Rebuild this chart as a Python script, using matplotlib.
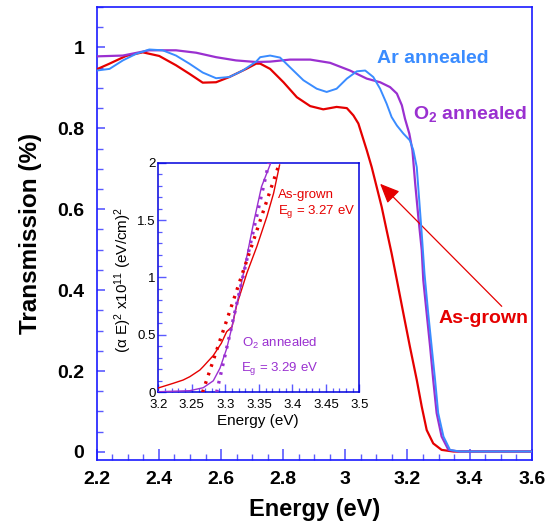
import matplotlib
matplotlib.use("Agg")
import matplotlib.pyplot as plt
from matplotlib.ticker import MultipleLocator, FuncFormatter

plt.rcParams['font.family'] = ['Liberation Sans', 'DejaVu Sans']
plt.rcParams['mathtext.fontset'] = 'custom'
plt.rcParams['mathtext.rm'] = 'Liberation Sans'
plt.rcParams['mathtext.it'] = 'Liberation Sans:italic'
plt.rcParams['mathtext.bf'] = 'Liberation Sans:bold'

# ---------------- data ----------------
asgrown_E = [2.200, 2.241, 2.294, 2.348, 2.401, 2.455, 2.498, 2.541, 2.584, 2.627,
             2.681, 2.713, 2.726, 2.758, 2.801, 2.844, 2.887, 2.929, 2.972, 3.005,
             3.026, 3.042, 3.069, 3.085, 3.101, 3.117, 3.133, 3.149, 3.166, 3.187,
             3.208, 3.230, 3.246, 3.262, 3.283, 3.310, 3.348, 3.600]
asgrown_T = [0.946, 0.960, 0.979, 0.988, 0.979, 0.956, 0.935, 0.913, 0.914, 0.927,
             0.947, 0.960, 0.960, 0.947, 0.914, 0.877, 0.855, 0.847, 0.853, 0.850,
             0.832, 0.812, 0.746, 0.704, 0.655, 0.606, 0.548, 0.491, 0.425, 0.342,
             0.260, 0.178, 0.112, 0.054, 0.021, 0.005, 0.001, 0.001]

ar_E = [2.200, 2.241, 2.284, 2.326, 2.369, 2.412, 2.455, 2.498, 2.541, 2.584,
        2.627, 2.670, 2.713, 2.726, 2.758, 2.790, 2.822, 2.865, 2.908, 2.940,
        2.972, 3.005, 3.037, 3.064, 3.090, 3.112, 3.133, 3.149, 3.166, 3.187,
        3.208, 3.219, 3.230, 3.238, 3.246, 3.255, 3.267, 3.278, 3.289, 3.299,
        3.316, 3.337, 3.369, 3.600]
ar_T = [0.943, 0.947, 0.968, 0.984, 0.995, 0.993, 0.980, 0.960, 0.938, 0.924,
        0.927, 0.943, 0.965, 0.976, 0.980, 0.975, 0.951, 0.919, 0.898, 0.890,
        0.898, 0.923, 0.941, 0.943, 0.927, 0.898, 0.861, 0.828, 0.807, 0.787,
        0.770, 0.746, 0.704, 0.622, 0.540, 0.440, 0.342, 0.260, 0.178, 0.096,
        0.038, 0.005, 0.001, 0.001]

o2_E = [2.200, 2.284, 2.369, 2.455, 2.520, 2.584, 2.648, 2.713, 2.758, 2.822,
        2.887, 2.951, 3.015, 3.069, 3.112, 3.144, 3.166, 3.182, 3.192, 3.206,
        3.216, 3.225, 3.235, 3.246, 3.251, 3.262, 3.273, 3.283, 3.294, 3.310,
        3.332, 3.363, 3.600]
o2_T = [0.978, 0.980, 0.993, 0.993, 0.987, 0.976, 0.968, 0.964, 0.965, 0.970,
        0.970, 0.962, 0.943, 0.923, 0.914, 0.902, 0.886, 0.857, 0.824, 0.787,
        0.746, 0.663, 0.581, 0.499, 0.425, 0.342, 0.260, 0.178, 0.096, 0.038,
        0.005, 0.001, 0.001]

# inset: (alpha E)^2 x 1e11 (eV/cm)^2
in_asg_E = [3.200, 3.222, 3.237, 3.247, 3.262, 3.267, 3.282, 3.294, 3.302, 3.310,
            3.317, 3.332, 3.347, 3.362, 3.372, 3.381]
in_asg_A = [0.038, 0.078, 0.107, 0.136, 0.194, 0.224, 0.320, 0.427, 0.528, 0.571,
            0.760, 1.036, 1.269, 1.530, 1.733, 1.980]
in_o2_E = [3.200, 3.247, 3.267, 3.282, 3.292, 3.302, 3.310, 3.316, 3.322, 3.332,
           3.342, 3.354, 3.368]
in_o2_A = [0.005, 0.014, 0.040, 0.100, 0.210, 0.380, 0.571, 0.746, 0.891, 1.181,
           1.472, 1.791, 2.000]
fit_asg_E = [3.266, 3.381]
fit_asg_A = [0.0, 2.0]
fit_o2_E = [3.287, 3.365]
fit_o2_A = [0.0, 2.0]

main_xticks = [2.2, 2.4, 2.6, 2.8, 3.0, 3.2, 3.4, 3.6]
main_yticks = [0, 0.2, 0.4, 0.6, 0.8, 1.0]
inset_xticks = [3.2, 3.25, 3.3, 3.35, 3.4, 3.45, 3.5]
inset_yticks = [0, 0.5, 1, 1.5, 2]

RED = '#e50000'
BLUE = '#3a8cff'
PURPLE = '#9a30d0'
SPINE = '#1a1aff'
TICK = '#5a5aff'

fmt = FuncFormatter(lambda v, p: ('%g' % round(v, 4)))

fig = plt.figure(figsize=(5.53, 5.28), dpi=100)
ax = fig.add_axes([0.175, 0.1288, 0.7865, 0.8579])

ax.plot(asgrown_E, asgrown_T, color=RED, lw=1.6, zorder=3)
ax.plot(o2_E, o2_T, color=PURPLE, lw=1.6, zorder=3)
ax.plot(ar_E, ar_T, color=BLUE, lw=1.4, zorder=4)

ax.set_xlim(2.2, 3.6)
ax.set_ylim(-0.02, 1.1)
ax.set_xticks(main_xticks)
ax.set_yticks(main_yticks)
ax.xaxis.set_minor_locator(MultipleLocator(0.05))
ax.yaxis.set_minor_locator(MultipleLocator(0.05))
ax.xaxis.set_major_formatter(fmt)
ax.yaxis.set_major_formatter(fmt)
for s in ax.spines.values():
    s.set_color(SPINE)
    s.set_linewidth(1.2)
ax.tick_params(axis='x', which='major', direction='in', length=8, width=1.2,
               color=TICK, pad=8, labelsize=14)
ax.tick_params(axis='x', which='minor', direction='in', length=4.5, width=1.0, color=TICK)
ax.tick_params(axis='y', which='major', direction='in', length=5.5, width=1.2,
               color=TICK, pad=9, labelsize=14)
ax.tick_params(axis='y', which='minor', direction='in', length=4.5, width=1.0, color=TICK)
for lab in ax.get_xticklabels() + ax.get_yticklabels():
    lab.set_fontweight('bold')

ax.set_xlabel('Energy (eV)', fontsize=17, fontweight='bold', va='center')
ax.set_ylabel('Transmission (%)', fontsize=17.5, fontweight='bold', va='center')
ax.xaxis.set_label_coords(0.5, -0.11)
ax.yaxis.set_label_coords(-0.153, 0.5)

ax.text(3.102, 0.961, 'Ar annealed', color=BLUE, fontsize=14, fontweight='bold', va='baseline')
ax.text(3.219, 0.824, r'O$_{\mathbf{2}}$ annealed', color=PURPLE, fontsize=14,
        fontweight='bold', va='baseline')
ax.text(3.299, 0.318, 'As-grown', color=RED, fontsize=14, fontweight='bold', va='baseline')
ax.annotate('', xy=(3.112, 0.663), xytext=(3.5035, 0.360),
            arrowprops=dict(arrowstyle='-|>,head_length=0.8,head_width=0.35',
                            color=RED, lw=0.9, mutation_scale=15, shrinkA=0, shrinkB=0))

# ---------------- inset ----------------
ins = fig.add_axes([0.2863, 0.257, 0.3635, 0.4349])
ins.plot(in_asg_E, in_asg_A, color=RED, lw=1.0, zorder=3)
ins.plot(in_o2_E, in_o2_A, color=PURPLE, lw=1.0, zorder=3)
ins.plot(fit_asg_E, fit_asg_A, color=RED, lw=2.4, ls=(0, (0.8, 1.9)), zorder=4)
ins.plot(fit_o2_E, fit_o2_A, color=PURPLE, lw=2.4, ls=(0, (0.8, 1.9)), zorder=4)
ins.set_xlim(3.2, 3.5)
ins.set_ylim(0, 2)
ins.set_xticks(inset_xticks)
ins.set_yticks(inset_yticks)
ins.xaxis.set_minor_locator(MultipleLocator(0.01))
ins.yaxis.set_minor_locator(MultipleLocator(0.1))
ins.xaxis.set_major_formatter(fmt)
ins.yaxis.set_major_formatter(fmt)
for s in ins.spines.values():
    s.set_color('#0000dd')
    s.set_linewidth(1.1)
ins.tick_params(axis='both', which='major', direction='in', color=TICK, width=1.0,
                labelsize=9.5, length=6)
ins.tick_params(axis='both', which='minor', direction='in', color=TICK, width=0.9, length=3)
ins.tick_params(axis='y', which='major', pad=2)
ins.tick_params(axis='x', which='major', pad=5)
ins.set_xlabel('Energy (eV)', fontsize=11, va='center')
ins.set_ylabel(r'(α E)$^2$ x10$^{11}$ (eV/cm)$^2$', fontsize=11, va='center')
ins.xaxis.set_label_coords(0.496, -0.125)
ins.yaxis.set_label_coords(-0.174, 0.489)

ins.text(3.379, 1.69, 'As-grown', color=RED, fontsize=9.5, va='baseline')
ins.text(3.379, 1.55, r'E$_\mathrm{g}$ = 3.27 eV', color=RED, fontsize=9.5, va='baseline')
ins.text(3.3245, 0.392, r'O$_\mathrm{2}$ annealed', color=PURPLE, fontsize=9.5, va='baseline')
ins.text(3.323, 0.186, r'E$_\mathrm{g}$ = 3.29 eV', color=PURPLE, fontsize=9.5, va='baseline')

fig.savefig('out.png', dpi=100)
